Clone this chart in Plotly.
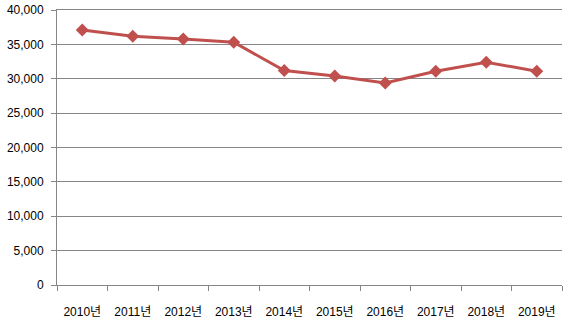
import plotly.graph_objects as go

years = ["2010년", "2011년", "2012년", "2013년", "2014년", "2015년", "2016년", "2017년", "2018년", "2019년"]
values = [37100, 36200, 35800, 35300, 31200, 30400, 29400, 31100, 32400, 31100]

fig = go.Figure()
fig.add_trace(go.Scatter(
    x=years, y=values, mode="lines+markers",
    line=dict(color="#C0504D", width=3),
    marker=dict(symbol="diamond", size=10, color="#C0504D"),
    cliponaxis=False,
))

font_family = "Liberation Sans, Noto Sans CJK KR, sans-serif"
fig.update_layout(
    width=566, height=325,
    margin=dict(l=57, r=4, t=10, b=40),
    paper_bgcolor="white", plot_bgcolor="white",
    showlegend=False,
    font=dict(family=font_family, size=12, color="black"),
)
fig.update_xaxes(
    type="category", tickson="boundaries", ticks="outside", ticklen=5,
    tickcolor="#868686", showline=True, linecolor="#868686", linewidth=1,
    mirror=True,
    showgrid=False, range=[-0.5, 9.5], automargin=False, ticklabelstandoff=16,
)
fig.update_yaxes(
    range=[0, 40000], dtick=5000, tickformat=",d",
    ticks="outside", ticklen=5, tickcolor="#868686",
    showline=True, linecolor="#868686", linewidth=1,
    showgrid=True, gridcolor="#868686", gridwidth=1, zeroline=False,
    automargin=False, ticklabelstandoff=5, ticklabeloverflow="allow",
)
fig.write_html(
    "out.html",
    config={"displayModeBar": False},
    post_script="document.body.style.margin='0';",
)
